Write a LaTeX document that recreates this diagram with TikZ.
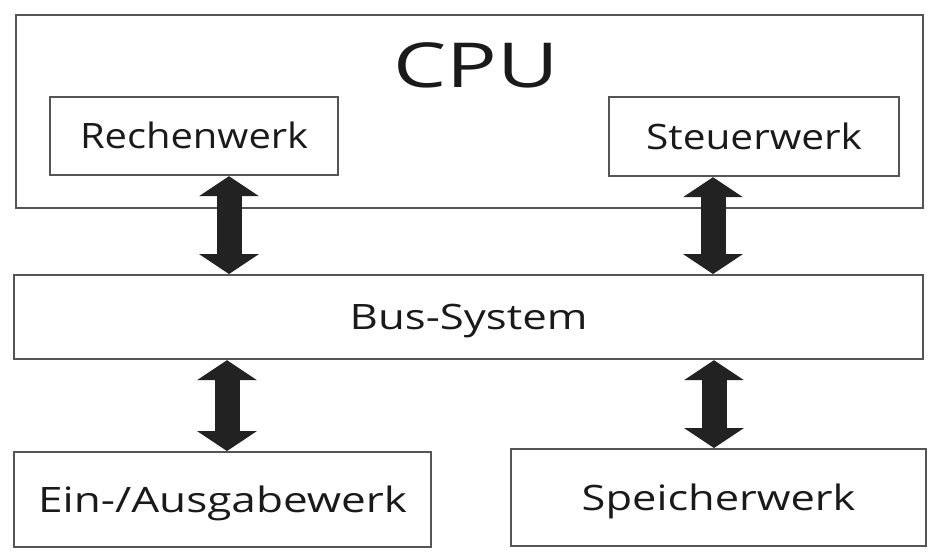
\documentclass[tikz,border=0pt]{standalone}
\usepackage{fontspec}
\setmainfont{Open Sans}
\usetikzlibrary{arrows.meta}
\definecolor{boxc}{HTML}{555555}
\definecolor{arrc}{HTML}{222222}
\definecolor{txtc}{HTML}{1A1A1A}
\begin{document}
\begin{tikzpicture}[x=1pt,y=-1pt,
  box/.style={draw=boxc, line width=2.2pt, rectangle, anchor=north west, inner sep=0pt,
    text height=25pt, text depth=0pt, font=\fontsize{35}{40}\selectfont, text=txtc},
  dblarr/.style={line width=25pt, draw=arrc, -{Triangle[width=60pt,length=20pt,line width=0pt]}}]
\useasboundingbox (0,0) rectangle (938,560);
\node[box, minimum width=907pt, minimum height=193pt] (cpu) at (15,14) {};
\node[font=\fontsize{62}{70}\selectfont, text=txtc, inner sep=0pt, text height=44pt, text depth=0pt] (cpulabel) at (476,65) {\scalebox{1.36}[1]{CPU}};
\node[box, minimum width=288pt, minimum height=78pt] (rw) at (49,96) {\scalebox{1.14}[1]{Rechenwerk}};
\node[box, minimum width=290pt, minimum height=79pt] (sw) at (608,96) {\scalebox{1.16}[1]{Steuerwerk}};
\node[box, minimum width=909pt, minimum height=84pt] (bus) at (13,274) {\scalebox{1.25}[1]{Bus-System}};
\node[box, minimum width=417pt, minimum height=95pt] (ea) at (13,451) {\scalebox{1.26}[1]{Ein-/Ausgabewerk}};
\node[box, minimum width=415pt, minimum height=97pt] (sp) at (510,448) {\scalebox{1.24}[1]{Speicherwerk}};
\coordinate (m1) at (229,224.5);
\coordinate (m2) at (713,224.5);
\coordinate (m3) at (227,404.5);
\coordinate (m4) at (714,404.5);
\draw[dblarr] ([yshift=-2.5pt]m1) -- (rw.south -| m1);
\draw[dblarr] ([yshift=2.5pt]m1) -- (bus.north -| m1);
\draw[dblarr] ([yshift=-2.5pt]m2) -- (sw.south -| m2);
\draw[dblarr] ([yshift=2.5pt]m2) -- (bus.north -| m2);
\draw[dblarr] ([yshift=-2.5pt]m3) -- (bus.south -| m3);
\draw[dblarr] ([yshift=2.5pt]m3) -- (ea.north -| m3);
\draw[dblarr] ([yshift=-2.5pt]m4) -- (bus.south -| m4);
\draw[dblarr] ([yshift=2.5pt]m4) -- (sp.north -| m4);
\end{tikzpicture}
\end{document}
